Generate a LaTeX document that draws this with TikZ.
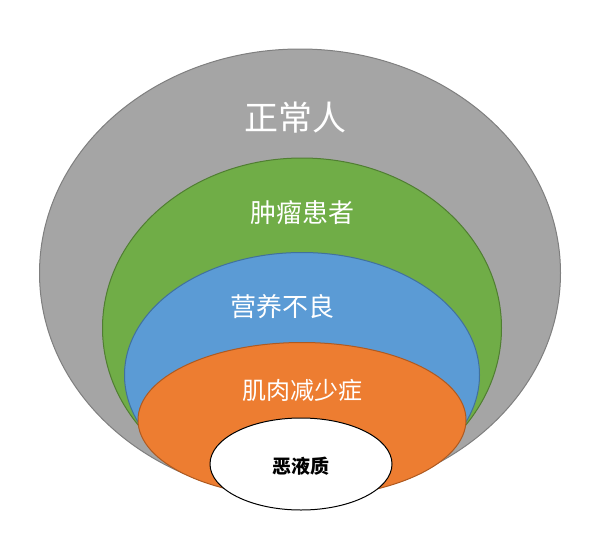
\documentclass[tikz,border=0pt]{standalone}
\usepackage{fontspec}
\newfontfamily\cjk{Noto Sans CJK SC}
\usetikzlibrary{shapes.geometric}
\definecolor{gfill}{HTML}{A5A5A5}\definecolor{gline}{HTML}{7F7F7F}
\definecolor{grfill}{HTML}{70AD47}\definecolor{grline}{HTML}{507E32}
\definecolor{bfill}{HTML}{5B9BD5}\definecolor{bline}{HTML}{41719C}
\definecolor{ofill}{HTML}{ED7D31}\definecolor{oline}{HTML}{AE5A21}
\tikzset{layer/.style={ellipse,inner sep=0pt,line width=1pt},
lbl/.style={text=white,font=\cjk}}
\begin{document}
\begin{tikzpicture}[x=1pt,y=-1pt]
\useasboundingbox (0,0) rectangle (602,549);
\node[layer,fill=gfill,draw=gline,minimum width=521pt,minimum height=448pt] (g) at (300,273) {};
\node[layer,fill=grfill,draw=grline,minimum width=399pt,minimum height=340pt] (gr) at (302,328) {};
\node[layer,fill=bfill,draw=bline,minimum width=355pt,minimum height=245pt] (b) at (302,375) {};
\node[layer,fill=ofill,draw=oline,minimum width=328pt,minimum height=155pt] (o) at (302,420) {};
\node[layer,fill=white,draw=black,minimum width=182pt,minimum height=92pt] (w) at (301,464) {};
\node[lbl,font=\cjk\fontsize{34}{34}\selectfont] (t1) at (295,118) {正常人};
\node[lbl,font=\cjk\fontsize{26}{26}\selectfont] (t2) at (302,213) {肿瘤患者};
\node[lbl,font=\cjk\fontsize{26}{26}\selectfont] (t3) at (282,307) {营养不良};
\node[lbl,font=\cjk\fontsize{24}{24}\selectfont] (t4) at (302,390) {肌肉减少症};
\node[font=\cjk\bfseries\fontsize{19}{19}\selectfont] (t5) at (301,466) {恶液质};
\end{tikzpicture}
\end{document}
